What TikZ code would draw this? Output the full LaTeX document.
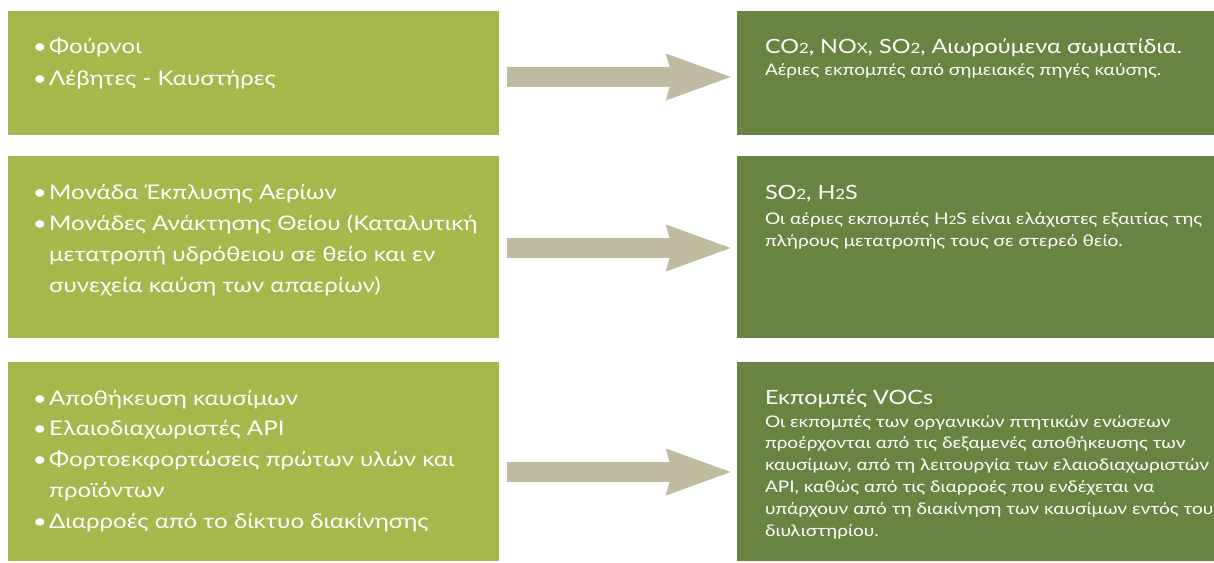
\documentclass[tikz,border=0pt]{standalone}
\usepackage{fontspec}
\setmainfont{Lato}[FakeStretch=1.19]
\usetikzlibrary{arrows.meta}

\definecolor{srcgreen}{HTML}{A6B74B}
\definecolor{dstgreen}{HTML}{678442}
\definecolor{arrowgrey}{HTML}{BEBBA0}

\newcommand{\smallidx}[1]{\scalebox{0.72}{#1}}
\newcommand{\itm}{\textbullet\hspace{0.12em}}
\newcommand{\cnt}{\phantom{\textbullet\hspace{0.12em}}}

\begin{document}
\begin{tikzpicture}[
	srcbox/.style={fill=srcgreen, minimum width=12.275cm, inner sep=0pt},
	dstbox/.style={fill=dstgreen, minimum width=11.925cm, inner sep=0pt},
	srctext/.style={text=white, align=left, inner sep=0pt, anchor=base west, font=\fontsize{14.4}{22.8}\selectfont},
	dsthead/.style={text=white, inner sep=0pt, anchor=base west, font=\fontsize{14}{17}\selectfont},
	dsttext/.style={text=white, align=left, inner sep=0pt, anchor=base west, font=\fontsize{11.4}{15.6}\selectfont},
	flowarrow/.style={line width=0.5cm, arrowgrey, -{Stealth[length=1.625cm, width=1.175cm, inset=0.175cm, line width=0pt]}}
]
	\useasboundingbox (0,0) rectangle (30.35,14.05);

	% Sources (left column)
	\node[srcbox, minimum height=3.1cm] (src1) at (6.3375,12.225) {};
	\node[srcbox, minimum height=4.55cm] (src2) at (6.3375,7.875) {};
	\node[srcbox, minimum height=4.975cm] (src3) at (6.3375,2.5125) {};

	% Emissions (right column)
	\node[dstbox, minimum height=3.1cm] (dst1) at (24.3875,12.225) {};
	\node[dstbox, minimum height=4.55cm] (dst2) at (24.3875,7.875) {};
	\node[dstbox, minimum height=4.975cm] (dst3) at (24.3875,2.5125) {};

	% Arrows
	\draw[flowarrow] ([xshift=0.2cm, yshift=-0.1cm]src1.east) -- ([xshift=-0.15cm, yshift=-0.1cm]dst1.west);
	\draw[flowarrow] ([xshift=0.2cm, yshift=-0.025cm]src2.east) -- ([xshift=-0.15cm, yshift=-0.025cm]dst2.west);
	\draw[flowarrow] ([xshift=0.2cm, yshift=-0.2625cm]src3.east) -- ([xshift=-0.15cm, yshift=-0.2625cm]dst3.west);

	% Source texts (anchored at the baseline of the last line)
	\node[srctext] (src1txt) at ([xshift=0.62cm, yshift=-1.875cm]src1.north west)
		{\itm Φούρνοι\\ \itm Λέβητες - Καυστήρες};
	\node[srctext, font=\fontsize{14.4}{22}\selectfont] (src2txt) at ([xshift=0.62cm, yshift=-3.425cm]src2.north west)
		{\itm Μονάδα Έκπλυσης Αερίων\\ \itm Μονάδες Ανάκτησης Θείου (Καταλυτική\\ \cnt μετατροπή υδρόθειου σε θείο και εν\\ \cnt συνεχεία καύση των απαερίων)};
	\node[srctext, font=\fontsize{14.4}{22}\selectfont] (src3txt) at ([xshift=0.62cm, yshift=-4.175cm]src3.north west)
		{\itm Αποθήκευση καυσίμων\\ \itm Ελαιοδιαχωριστές API\\ \itm Φορτοεκφορτώσεις πρώτων υλών και\\ \cnt προϊόντων\\ \itm Διαρροές από το δίκτυο διακίνησης};

	% Emission texts
	\node[dsthead] (dst1head) at ([xshift=0.7cm, yshift=-1.075cm]dst1.north west)
		{CO\smallidx{2}, NO\smallidx{X}, SO\smallidx{2}, Αιωρούμενα σωματίδια.};
	\node[dsttext] (dst1txt) at ([yshift=-0.55cm]dst1head.base west)
		{Αέριες εκπομπές από σημειακές πηγές καύσης.};

	\node[dsthead] (dst2head) at ([xshift=0.7cm, yshift=-1.1cm]dst2.north west)
		{SO\smallidx{2}, H\smallidx{2}S};
	\node[dsttext] (dst2txt) at ([yshift=-1.175cm]dst2head.base west)
		{Οι αέριες εκπομπές H\smallidx{2}S είναι ελάχιστες εξαιτίας της\\ πλήρους μετατροπής τους σε στερεό θείο.};

	\node[dsthead] (dst3head) at ([xshift=0.7cm, yshift=-1.075cm]dst3.north west)
		{Εκπομπές VOCs};
	\node[dsttext] (dst3txt) at ([yshift=-3.3cm]dst3head.base west)
		{Οι εκπομπές των οργανικών πτητικών ενώσεων\\ προέρχονται από τις δεξαμενές αποθήκευσης των\\ καυσίμων, από τη λειτουργία των ελαιοδιαχωριστών\\ API, καθώς από τις διαρροές που ενδέχεται να\\ υπάρχουν από τη διακίνηση των καυσίμων εντός του\\ διυλιστηρίου.};
\end{tikzpicture}
\end{document}
